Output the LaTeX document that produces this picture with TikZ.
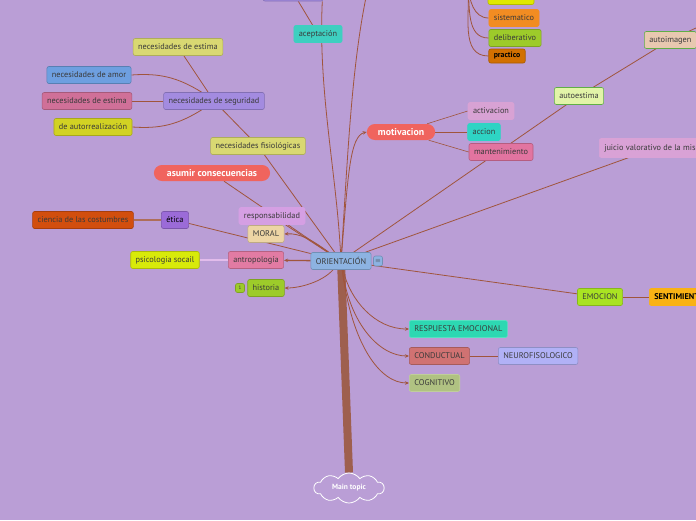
\documentclass[tikz,border=0pt]{standalone}
\usepackage{fontspec}
\setmainfont{PT Sans}
\usetikzlibrary{positioning,arrows.meta,shapes.symbols,backgrounds}
\pgfdeclarelayer{edges}
\pgfsetlayers{background,edges,main}

\definecolor{bgcol}{HTML}{BA9ED6}
\definecolor{linkcol}{HTML}{A0553C}
\definecolor{trunkcol}{HTML}{9E5F4E}
\definecolor{txtcol}{HTML}{3A3A3A}
\definecolor{pillcol}{HTML}{F0645E}
\definecolor{orientcol}{HTML}{8DB3E2}
\definecolor{moralcol}{HTML}{EDD5A5}
\definecolor{responscol}{HTML}{D59FE3}
\definecolor{eticacol}{HTML}{9B6BD8}
\definecolor{cienciacol}{HTML}{D24E0E}
\definecolor{antropcol}{HTML}{E27BA3}
\definecolor{psicocol}{HTML}{D8EA0A}
\definecolor{historiacol}{HTML}{9DCB2A}
\definecolor{fisiocol}{HTML}{D9D872}
\definecolor{segurcol}{HTML}{A38BE0}
\definecolor{amorcol}{HTML}{6E9FE0}
\definecolor{estimacol}{HTML}{D07098}
\definecolor{autorrcol}{HTML}{D2D223}
\definecolor{aceptcol}{HTML}{3ECFC0}
\definecolor{sistemcol}{HTML}{F28C22}
\definecolor{delibcol}{HTML}{9DCB2A}
\definecolor{practicocol}{HTML}{D27000}
\definecolor{yellowcol}{HTML}{E0E800}
\definecolor{activcol}{HTML}{D8A2D4}
\definecolor{accioncol}{HTML}{2ED4C4}
\definecolor{mantencol}{HTML}{E274A0}
\definecolor{autoestcol}{HTML}{E2F4A8}
\definecolor{autoimgcol}{HTML}{E8C8B0}
\definecolor{juiciocol}{HTML}{D9A2D6}
\definecolor{emocioncol}{HTML}{A9E322}
\definecolor{sentimcol}{HTML}{F9B214}
\definecolor{respcol}{HTML}{2DD8B2}
\definecolor{conductcol}{HTML}{D07272}
\definecolor{neurocol}{HTML}{B1B1F6}
\definecolor{cognitcol}{HTML}{B0C282}

\begin{document}
\begin{tikzpicture}[x=1pt, y=-1pt,
  topic/.style={draw=#1!80!black, fill=#1, rounded corners=2pt, line width=0.6pt,
                minimum height=17pt, inner xsep=5pt, inner ysep=2pt,
                font=\fontsize{8.3}{9}\selectfont, text=txtcol},
  pill/.style={fill=pillcol, rounded corners=8pt, minimum height=16pt, inner xsep=13pt,
               font=\bfseries\fontsize{9.8}{10}\selectfont, text=white},
  link/.style={draw=linkcol, line width=0.8pt},
  arr/.style={link, -{Stealth[length=4pt, width=3.5pt]}},
  trunk/.style={draw=trunkcol, line width=8pt}
]
\begin{scope}[on background layer]
  \fill[bgcol] (0,0) rectangle (696,520);
\end{scope}
\useasboundingbox (0,0) rectangle (696,520);

% centre
\node[topic=orientcol] (orient) at (341,261) {ORIENTACIÓN};
\node[topic=orientcol, minimum height=10pt, minimum width=9pt, inner sep=0.5pt,
      font=\fontsize{6}{6}\selectfont] (orientnote) at (378,261) {$\equiv$};
\node[cloud, cloud puffs=10, cloud puff arc=110, aspect=2.6, draw=white, line width=0.8pt,
      minimum width=70pt, minimum height=27pt, text=white,
      font=\bfseries\fontsize{7.5}{8}\selectfont] (maintopic) at (349,488) {Main topic};

% left branch
\node[topic=moralcol] (moral) at (266,234) {MORAL};
\node[topic=responscol, draw=responscol] (respons) at (272,216) {responsabilidad};
\node[topic=eticacol, text=black] (etica) at (175,220) {ética};
\node[topic=cienciacol] (ciencia) at (83,220) {ciencia de las costumbres};
\node[topic=antropcol] (antrop) at (256,260) {antropología};
\node[topic=psicocol] (psico) at (165,260) {psicologia socail};
\node[topic=historiacol] (historia) at (266,288) {historia};
\node[topic=historiacol, minimum height=9pt, minimum width=9pt, inner sep=0.5pt,
      font=\fontsize{5}{5}\selectfont] (histbadge) at (240,288) {1};
\node[pill] (asumir) at (212,173) {asumir consecuencias};

% necesidades
\node[topic=fisiocol] (fisio) at (258,146) {necesidades fisiológicas};
\node[topic=segurcol] (segur) at (214,101) {necesidades de seguridad};
\node[topic=fisiocol] (estimaA) at (178,47) {necesidades de estima};
\node[topic=amorcol] (amor) at (89,75) {necesidades de amor};
\node[topic=estimacol] (estimaB) at (87,101) {necesidades de estima};
\node[topic=autorrcol] (autorr) at (93,127) {de autorrealización};

% top
\node[topic=segurcol, minimum width=60pt] (purpletop) at (293,-7.5) {};
\node[topic=aceptcol, draw=aceptcol] (acept) at (318,34) {aceptación};
\node[topic=yellowcol, minimum width=46pt] (yellowtop) at (511,-4) {};
\node[topic=sistemcol, draw=sistemcol] (sistem) at (514,18) {sistematico};
\node[topic=delibcol] (delib) at (515,38) {deliberativo};
\node[topic=practicocol, minimum height=14pt, text=black,
      font=\bfseries\fontsize{7.8}{9}\selectfont] (practico) at (507,56) {practico};
\coordinate (topstem) at (368,-12);
\coordinate (yparent) at (468,-15);

% motivacion
\node[pill, inner xsep=11pt] (motiv) at (401,132) {motivacion};
\node[topic=activcol, draw=activcol] (activ) at (491,111) {activacion};
\node[topic=accioncol, draw=accioncol] (accion) at (484,132) {accion};
\node[topic=mantencol] (manten) at (501,152) {mantenimiento};

% right
\node[topic=autoestcol, draw=autoestcol!60!green!70!black] (autoest) at (579,96) {autoestima};
\node[topic=autoimgcol, draw=autoestcol!60!green!70!black, anchor=west] (autoimg) at (644,40) {autoimagen\hspace{14pt}};
\coordinate (autoimgup) at (730,12);
\node[topic=juiciocol, draw=juiciocol, minimum height=19pt, anchor=west] (juicio) at (599,148) {juicio valorativo de la misma};
\node[topic=emocioncol] (emocion) at (600,297) {EMOCION};
\node[topic=sentimcol, draw=sentimcol, text=black, anchor=west,
      font=\bfseries\fontsize{8.3}{9}\selectfont] (sentim) at (649,297) {SENTIMIENTO};

% bottom right
\node[topic=respcol, draw=respcol!80!white, anchor=west] (resp) at (409,329) {RESPUESTA EMOCIONAL};
\node[topic=conductcol, anchor=west] (conduct) at (409,356) {CONDUCTUAL};
\node[topic=neurocol, anchor=west] (neuro) at (498,356) {NEUROFISOLOGICO};
\node[topic=cognitcol, draw=cognitcol!80!white, anchor=west] (cognit) at (409,383) {COGNITIVO};

\begin{pgfonlayer}{edges}
  \draw[trunk] (orient.center) -- (maintopic.north);
  % left
  \draw[link, line width=2pt, draw=linkcol!85!white] (ciencia) -- (etica);
  \draw[link] (etica) -- (orient);
  \draw[link] (asumir) -- (orient);
  \draw[link] (respons) -- (orient);
  \draw[link] (fisio) -- (orient);
  \draw[arr] (orient) .. controls (312,240) and (300,233) .. (moral.east);
  \draw[arr, line width=1.3pt] (orient) -- (antrop);
  \draw[link, line width=1.5pt, draw=responscol!70!white] (psico) -- (antrop);
  \draw[arr] (orient) .. controls (322,282) and (300,288) .. (historia.east);
  % necesidades
  \draw[link] (segur) -- (fisio);
  \draw[link] (estimaA) -- (segur);
  \draw[link] (amor.east) to[bend left=18] (segur);
  \draw[link] (estimaB) -- (segur);
  \draw[link] (autorr.east) to[bend right=18] (segur);
  % top
  \draw[link] (purpletop) -- (acept);
  \draw[link] ([xshift=-1pt]purpletop.south east) .. controls (318,90) and (336,170) .. (orient);
  \draw[link] (orient) .. controls (348,150) and (352,60) .. (topstem);
  \draw[link] (yparent) to[out=-85, in=180] (sistem.west);
  \draw[link] (yparent) to[out=-85, in=180] (delib.west);
  \draw[link] (yparent) to[out=-85, in=180] (practico.west);
  % motivacion
  \draw[arr] (orient) .. controls (348,175) and (350,136) .. (motiv.west);
  \draw[link, line width=0.6pt] (motiv) -- (activ.west);
  \draw[link, line width=0.6pt] (motiv) -- (accion);
  \draw[link, line width=0.6pt] (motiv) -- (manten.west);
  % right
  \draw[link] (orient) -- (autoest);
  \draw[link] (autoest) -- (autoimg);
  \draw[link] (autoimg) -- (autoimgup);
  \draw[link] (orient) -- (juicio);
  \draw[link] (orient) -- (emocion);
  \draw[link] (emocion) -- (sentim);
  % bottom right
  \draw[arr] (orient) .. controls (350,300) and (375,329) .. (resp.west);
  \draw[arr] (orient) .. controls (350,325) and (380,356) .. (conduct.west);
  \draw[arr] (orient) .. controls (352,345) and (380,383) .. (cognit.west);
  \draw[link, line width=0.6pt] (conduct) -- (neuro);
\end{pgfonlayer}
\end{tikzpicture}
\end{document}
